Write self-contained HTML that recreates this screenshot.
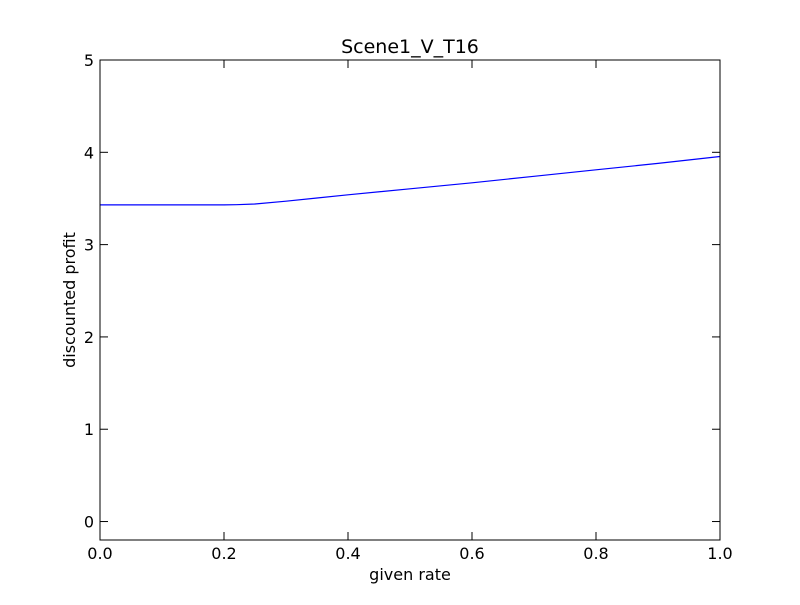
<!DOCTYPE html>
<html><head><meta charset="utf-8"><style>
body{margin:0;background:#fff;}
svg text{font-family:"DejaVu Sans","Liberation Sans",sans-serif;}
</style></head><body>
<svg id="chart" width="800" height="600" xmlns="http://www.w3.org/2000/svg">
<rect width="800" height="600" fill="#fff"/>
<text x="410" y="53" font-size="19" text-anchor="middle">Scene1_V_T16</text>
<text x="410" y="580" font-size="16" text-anchor="middle">given rate</text>
<text transform="translate(75,300) rotate(-90)" font-size="16" text-anchor="middle">discounted profit</text>
<g id="ticks"></g>
<path id="line" fill="none" stroke="#0000ff" stroke-width="1.2"/>
<rect x="100" y="60" width="620" height="480" fill="none" stroke="#000" stroke-width="1"/>
</svg>
<script>
const xs = [0, 0.1, 0.2, 0.22, 0.25, 0.3, 0.35, 0.4, 0.5, 0.6, 0.7, 0.8, 0.9, 1.0];
const ys = [3.43, 3.43, 3.43, 3.432, 3.44, 3.47, 3.505, 3.54, 3.605, 3.67, 3.74, 3.81, 3.88, 3.955];
const xTicks = [0, 0.2, 0.4, 0.6, 0.8, 1.0];
const xTickLabels = ["0.0", "0.2", "0.4", "0.6", "0.8", "1.0"];
const yTicks = [0, 1, 2, 3, 4, 5];
const yTickLabels = ["0", "1", "2", "3", "4", "5"];
const X = v => 100 + (v - 0) / (1 - 0) * 620;
const Y = v => 540 - (v + 0.2) / 5.2 * 480;
const ns = "http://www.w3.org/2000/svg";
const g = document.getElementById('ticks');
function mk(tag, attrs){const e=document.createElementNS(ns,tag);for(const k in attrs)e.setAttribute(k,attrs[k]);g.appendChild(e);return e;}
xTicks.forEach((t,i)=>{
  const x=X(t);
  const a=mk('line',{x1:x,x2:x,y1:540,y2:532,stroke:'#000'});
  
  
  const b=mk('line',{x1:x,x2:x,y1:60,y2:68,stroke:'#000'});
  
  
  const tx=mk('text',{x:x,y:559,'font-size':16,'text-anchor':'middle'});
  tx.textContent=xTickLabels[i];
  
  
});
yTicks.forEach((t,i)=>{
  const y=Y(t);
  const a=mk('line',{x1:100,x2:108,y1:y,y2:y,stroke:'#000'});
  
  
  const b=mk('line',{x1:712,x2:720,y1:y,y2:y,stroke:'#000'});
  
  
  const tx=mk('text',{x:94,y:y+6,'font-size':16,'text-anchor':'end'});
  tx.textContent=yTickLabels[i];
  
  
});
document.getElementById('line').setAttribute('d', xs.map((x,i)=>(i?'L':'M')+X(x).toFixed(1)+' '+Y(ys[i]).toFixed(1)).join(' '));
</script>
</body></html>
